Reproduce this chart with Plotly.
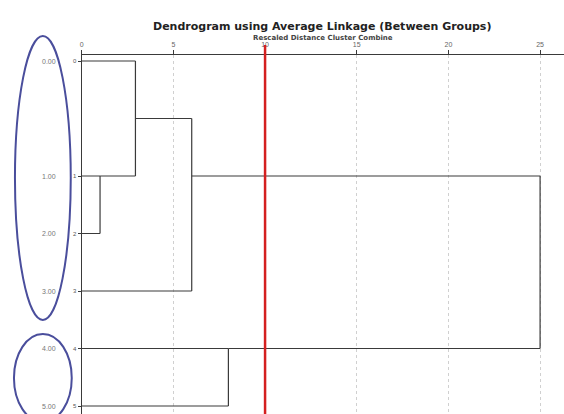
import math
import plotly.graph_objects as go

# ---- data ----
leaf_labels = ["0", "1", "2", "3", "4", "5"]
case_labels = ["0.00", "1.00", "2.00", "3.00", "4.00", "5.00"]
leaf_rows = [0, 2, 3, 4, 5, 6]          # row position of each leaf (as drawn)
# merges: cluster ids (leaves 0-5, new clusters 6..)
merge_a = [1, 0, 7, 4, 8]
merge_b = [2, 6, 3, 5, 9]
merge_dist = [1.0, 2.93, 6.0, 8.0, 25.0]
x_ticks = [0, 5, 10, 15, 20, 25]
cut_distance = 10

W, H = 564, 414
LINE = "#3a3a3a"

fig = go.Figure()

# build dendrogram segments (SPSS style)
rep_y = {i: leaf_rows[i] for i in range(len(leaf_rows))}
rep_x = {i: 0.0 for i in range(len(leaf_rows))}
seg_x, seg_y = [], []
new_id = len(leaf_rows)
for a, b, d in zip(merge_a, merge_b, merge_dist):
    for c in (a, b):
        seg_x += [rep_x[c], d, None]
        seg_y += [rep_y[c], rep_y[c], None]
    seg_x += [d, d, None]
    seg_y += [rep_y[a], rep_y[b], None]
    rep_y[new_id] = math.floor((rep_y[a] + rep_y[b]) / 2)
    rep_x[new_id] = d
    new_id += 1

fig.add_trace(go.Scatter(x=seg_x, y=seg_y, mode="lines",
                         line=dict(color=LINE, width=1.2),
                         hoverinfo="skip", showlegend=False))

# axis geometry
x0px, x1px = 80, 564
px_per_unit = 18.4
y_top_px, row0_px, row_px = 55, 61, 57.5
fig.update_layout(
    width=W, height=H,
    margin=dict(l=0, r=0, t=0, b=0),
    paper_bgcolor="white", plot_bgcolor="white",
    font=dict(family="Liberation Sans, Arial, sans-serif", color="#333"),
    xaxis=dict(domain=[x0px / W, x1px / W],
               range=[0, (x1px - x0px) / px_per_unit],
               side="top", tickvals=x_ticks, ticktext=[str(t) for t in x_ticks],
               ticks="outside", ticklen=4, tickcolor=LINE,
               tickfont=dict(size=7, color="#666"),
               showline=True, linecolor=LINE, linewidth=1.2,
               showgrid=True, gridcolor="#d0d0d0", griddash="dot", gridwidth=1,
               zeroline=False),
    yaxis=dict(domain=[0, 1 - y_top_px / H],
               range=[(H - row0_px) / row_px, (y_top_px - row0_px) / row_px],
               tickvals=leaf_rows, ticktext=leaf_labels,
               ticks="outside", ticklen=3, tickcolor=LINE,
               tickfont=dict(size=6, color="#555"),
               showline=True, linecolor=LINE, linewidth=1.2,
               showgrid=False, zeroline=False),
)

# cut line
fig.add_shape(type="line", xref="x", yref="paper", x0=cut_distance, x1=cut_distance,
              y0=0, y1=1 - 45 / H, line=dict(color="#d42020", width=2.5))

# left case labels
for r, lab in zip(leaf_rows, case_labels):
    fig.add_annotation(x=38 / W, xref="paper", y=r, yref="y", text=lab,
                       showarrow=False, font=dict(size=7, color="#777"))

# ellipses
def px_ellipse(xa, ya, xb, yb):
    fig.add_shape(type="circle", xref="paper", yref="paper",
                  x0=xa / W, x1=xb / W, y0=1 - yb / H, y1=1 - ya / H,
                  line=dict(color="#4a4e9c", width=2))

px_ellipse(13, 36, 69, 320)
px_ellipse(12, 334, 70, 422)

# titles
fig.add_annotation(x=321 / W, y=1 - 18 / H, xref="paper", yref="paper",
                   text="<b>Dendrogram using Average Linkage (Between Groups)</b>",
                   showarrow=False,
                   font=dict(family="DejaVu Sans, sans-serif", size=11, color="#222"))
fig.add_annotation(x=322 / W, y=1 - 32 / H, xref="paper", yref="paper",
                   text="<b>Rescaled Distance Cluster Combine</b>",
                   showarrow=False,
                   font=dict(family="DejaVu Sans, sans-serif", size=7, color="#444"))

fig.write_html("out.html")
